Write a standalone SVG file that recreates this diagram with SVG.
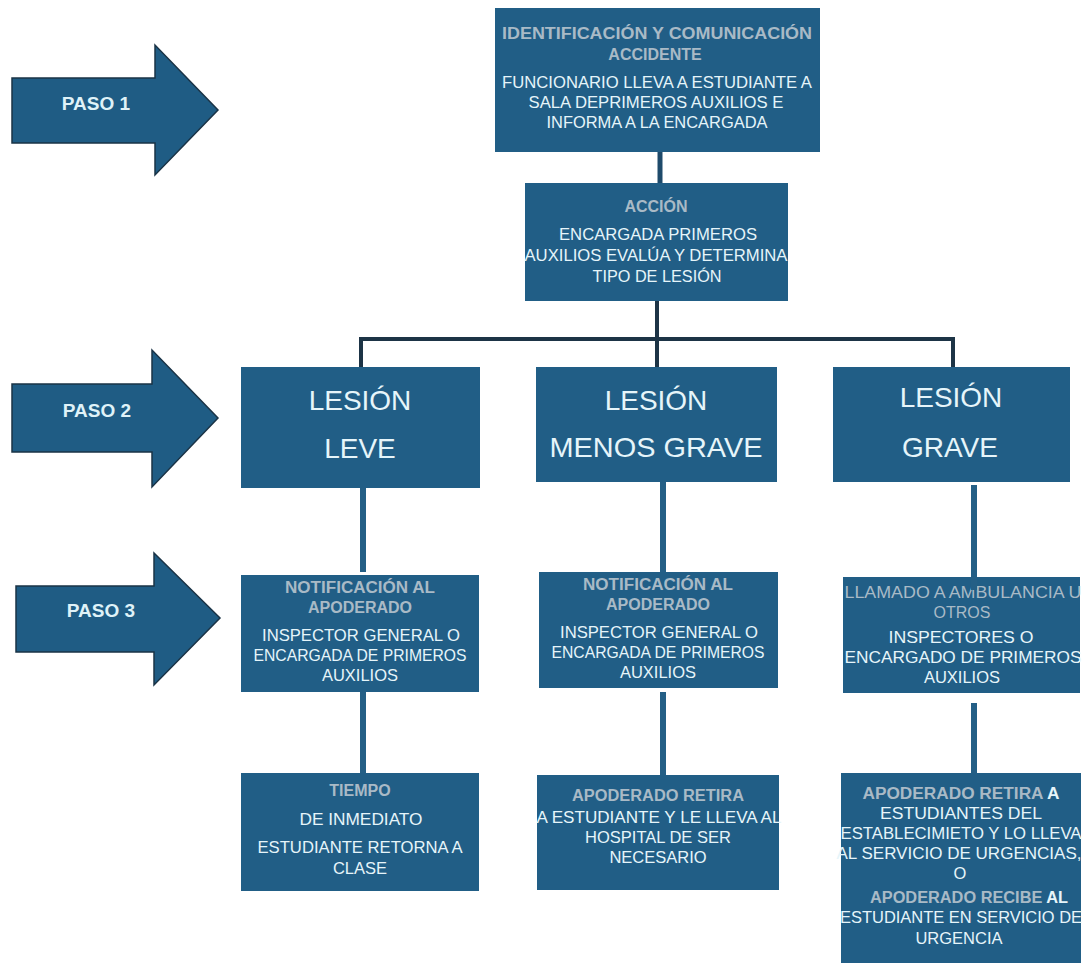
<svg xmlns="http://www.w3.org/2000/svg" width="1083" height="967" viewBox="0 0 1083 967">
<style>
.box{fill:#215e86;}
.arrow{fill:#1f5c84;stroke:#1a3346;stroke-width:1.5;}
.t{font-family:"Liberation Sans",Arial,sans-serif;text-anchor:middle;}
.ttl{font-weight:bold;font-size:16px;fill:#a9bac6;}
.ttlr{font-size:16px;fill:#a9bac6;}
.body{font-size:16.5px;fill:#e6f5fa;}
.big{font-size:28px;fill:#e6f5fa;}
.paso{font-size:19px;font-weight:bold;fill:#dff2f8;}
.w{fill:#e6f5fa;}
.cb{stroke:#245f86;stroke-width:6;fill:none;}
.cd{stroke:#1d3446;stroke-width:4;fill:none;}
</style>
<rect width="1083" height="967" fill="#ffffff"/>

<g id="paso1">
<polygon class="arrow" points="12,78 155,78 155,45 218,110 155,175 155,143 12,143"/>
<text class="t paso" x="96" y="110">PASO 1</text>
</g>
<g id="paso2">
<polygon class="arrow" points="12,384 152,384 152,350 218,418 152,487 152,452 12,452"/>
<text class="t paso" x="97" y="417">PASO 2</text>
</g>
<g id="paso3">
<polygon class="arrow" points="16,586 154,586 154,553 220,618 154,685 154,652 16,652"/>
<text class="t paso" x="101" y="617">PASO 3</text>
</g>

<g id="identificacion">
<rect class="box" x="495" y="8" width="325" height="144"/>
<text class="t ttl" x="657" y="39" textLength="310" lengthAdjust="spacingAndGlyphs">IDENTIFICACIÓN  Y COMUNICACIÓN</text>
<text class="t ttl" x="655" y="60">ACCIDENTE</text>
<text class="t body" x="657" y="88" textLength="310" lengthAdjust="spacingAndGlyphs">FUNCIONARIO LLEVA A ESTUDIANTE A</text>
<text class="t body" x="656" y="108" textLength="255" lengthAdjust="spacingAndGlyphs">SALA  DEPRIMEROS AUXILIOS E</text>
<text class="t body" x="657" y="128" textLength="221" lengthAdjust="spacingAndGlyphs">INFORMA A LA ENCARGADA</text>
</g>

<g id="accion">
<rect class="box" x="525" y="183" width="263" height="118"/>
<text class="t ttl" x="656" y="212">ACCIÓN</text>
<text class="t body" x="658" y="240" textLength="198" lengthAdjust="spacingAndGlyphs">ENCARGADA PRIMEROS</text>
<text class="t body" x="656" y="261" textLength="263" lengthAdjust="spacingAndGlyphs">AUXILIOS EVALÚA Y DETERMINA</text>
<text class="t body" x="657" y="282" textLength="129" lengthAdjust="spacingAndGlyphs">TIPO DE LESIÓN</text>
</g>

<g id="lesion-leve">
<rect class="box" x="241" y="367" width="239" height="121"/>
<text class="t big" x="360" y="410">LESIÓN</text>
<text class="t big" x="360" y="458">LEVE</text>
</g>
<g id="lesion-menos-grave">
<rect class="box" x="536" y="367" width="241" height="115"/>
<text class="t big" x="656" y="410">LESIÓN</text>
<text class="t big" x="656" y="457" textLength="213" lengthAdjust="spacingAndGlyphs">MENOS GRAVE</text>
</g>
<g id="lesion-grave">
<rect class="box" x="833" y="367" width="237" height="115"/>
<text class="t big" x="951" y="407">LESIÓN</text>
<text class="t big" x="950" y="457">GRAVE</text>
</g>

<g id="notificacion-leve">
<rect class="box" x="241" y="575" width="238" height="117"/>
<text class="t ttl" x="360" y="593" textLength="150" lengthAdjust="spacingAndGlyphs">NOTIFICACIÓN AL</text>
<text class="t ttl" x="360" y="613">APODERADO</text>
<text class="t body" x="361" y="641" textLength="198" lengthAdjust="spacingAndGlyphs">INSPECTOR GENERAL O</text>
<text class="t body" x="360" y="661" textLength="213" lengthAdjust="spacingAndGlyphs">ENCARGADA DE PRIMEROS</text>
<text class="t body" x="360" y="681">AUXILIOS</text>
</g>
<g id="notificacion-menos-grave">
<rect class="box" x="539" y="572" width="239" height="116"/>
<text class="t ttl" x="658" y="590" textLength="150" lengthAdjust="spacingAndGlyphs">NOTIFICACIÓN AL</text>
<text class="t ttl" x="658" y="610">APODERADO</text>
<text class="t body" x="659" y="638" textLength="198" lengthAdjust="spacingAndGlyphs">INSPECTOR GENERAL O</text>
<text class="t body" x="658" y="658" textLength="213" lengthAdjust="spacingAndGlyphs">ENCARGADA DE PRIMEROS</text>
<text class="t body" x="658" y="678">AUXILIOS</text>
</g>
<g id="llamado-ambulancia">
<rect class="box" x="843" y="577" width="237" height="116"/>
<text class="t ttlr" x="963" y="598" textLength="237" lengthAdjust="spacingAndGlyphs">LLAMADO A AMBULANCIA U</text>
<text class="t ttlr" x="962" y="618">OTROS</text>
<text class="t body" x="961" y="643" textLength="145" lengthAdjust="spacingAndGlyphs">INSPECTORES O</text>
<text class="t body" x="963" y="663" textLength="237" lengthAdjust="spacingAndGlyphs">ENCARGADO DE PRIMEROS</text>
<text class="t body" x="962" y="683">AUXILIOS</text>
</g>

<g id="tiempo">
<rect class="box" x="241" y="773" width="238" height="118"/>
<text class="t ttl" x="360" y="796">TIEMPO</text>
<text class="t body" x="361" y="825" textLength="123" lengthAdjust="spacingAndGlyphs">DE INMEDIATO</text>
<text class="t body" x="360" y="853" textLength="205" lengthAdjust="spacingAndGlyphs">ESTUDIANTE RETORNA A</text>
<text class="t body" x="360" y="874">CLASE</text>
</g>
<g id="apoderado-retira">
<rect class="box" x="537" y="775" width="242" height="115"/>
<text class="t ttl" x="658" y="801" textLength="172" lengthAdjust="spacingAndGlyphs">APODERADO RETIRA</text>
<text class="t body" x="659" y="823" textLength="245" lengthAdjust="spacingAndGlyphs">A ESTUDIANTE Y LE LLEVA AL</text>
<text class="t body" x="658" y="843">HOSPITAL DE SER</text>
<text class="t body" x="658" y="863">NECESARIO</text>
</g>
<g id="apoderado-retira-grave">
<rect class="box" x="841" y="773" width="240" height="190"/>
<text class="t ttl" x="961" y="799" textLength="197" lengthAdjust="spacingAndGlyphs">APODERADO RETIRA <tspan class="w">A</tspan></text>
<text class="t body" x="961" y="819" textLength="162" lengthAdjust="spacingAndGlyphs">ESTUDIANTES DEL</text>
<text class="t body" x="961" y="839" textLength="241" lengthAdjust="spacingAndGlyphs">ESTABLECIMIETO Y LO LLEVA</text>
<text class="t body" x="959" y="859" textLength="245" lengthAdjust="spacingAndGlyphs">AL SERVICIO DE URGENCIAS,</text>
<text class="t body" x="960" y="879">O</text>
<text class="t ttl" x="969" y="903" textLength="198" lengthAdjust="spacingAndGlyphs">APODERADO RECIBE <tspan class="w">AL</tspan></text>
<text class="t body" x="961" y="923" textLength="242" lengthAdjust="spacingAndGlyphs">ESTUDIANTE EN SERVICIO DE</text>
<text class="t body" x="959" y="944">URGENCIA</text>
</g>

<g id="connectors">
<line x1="660" y1="152" x2="660" y2="183" stroke="#1e4a6b" stroke-width="5"/>
<line class="cd" x1="657" y1="301" x2="657" y2="367"/>
<polyline class="cd" points="361,367 361,339 953,339 953,367"/>
<line class="cb" x1="363" y1="488" x2="363" y2="572"/>
<line class="cb" x1="363" y1="692" x2="363" y2="773"/>
<line class="cb" x1="663" y1="482" x2="663" y2="572"/>
<line class="cb" x1="663" y1="692" x2="663" y2="775"/>
<line class="cb" x1="974" y1="485" x2="974" y2="590"/>
<line class="cb" x1="974" y1="703" x2="974" y2="773"/>
</g>
</svg>
